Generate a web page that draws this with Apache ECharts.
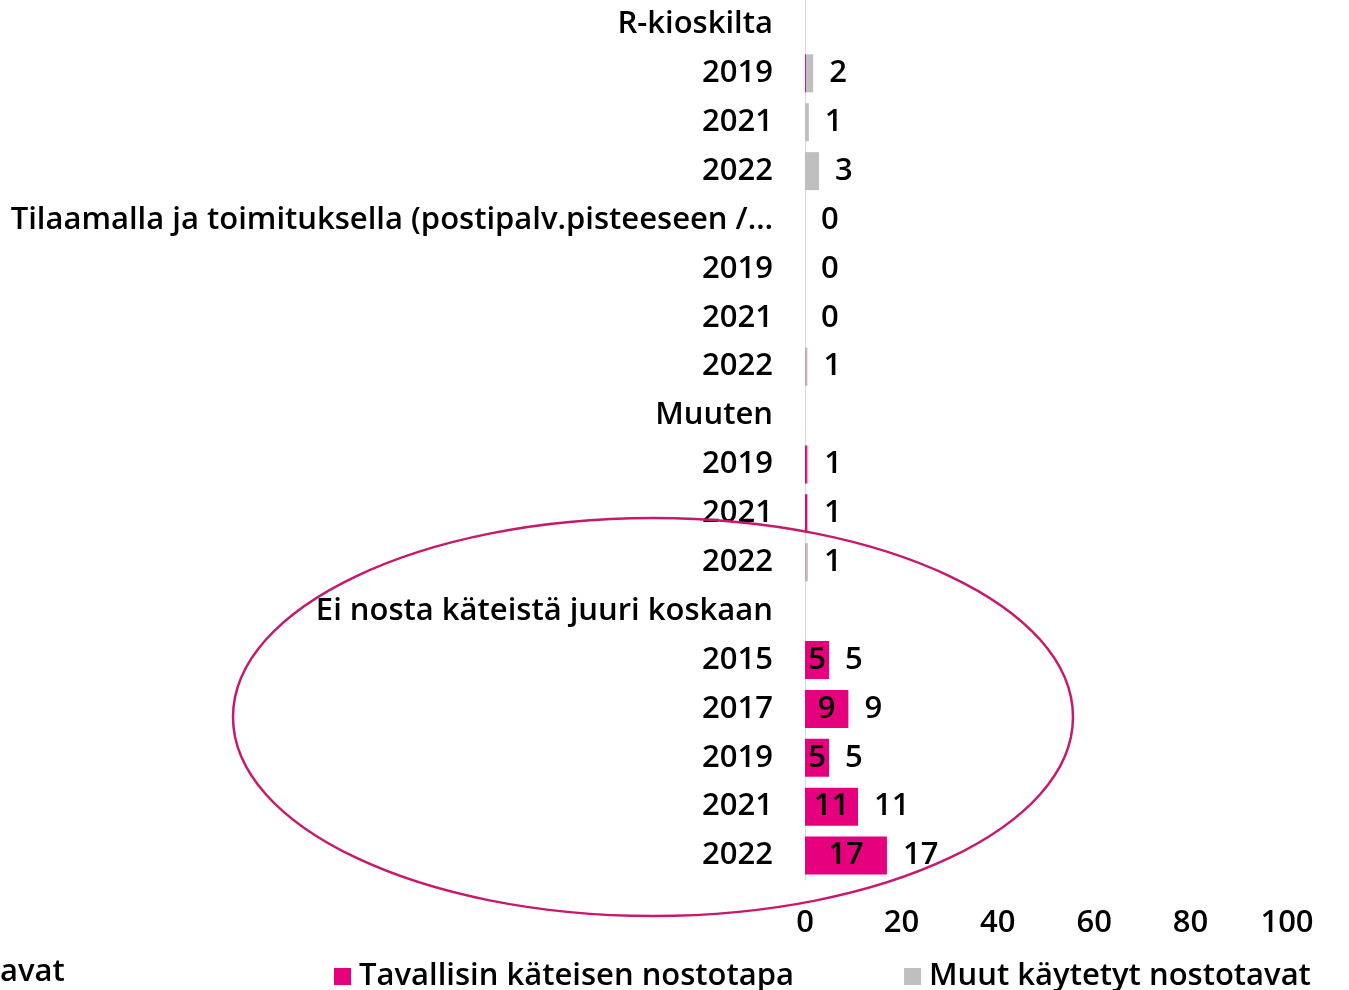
<!DOCTYPE html>
<html>
<head>
<meta charset="utf-8">
<style>
html,body{margin:0;padding:0;background:#fff;}
#chart{width:1349px;height:990px;}
</style>
<script src="https://cdn.jsdelivr.net/npm/echarts@6/dist/echarts.min.js"></script>
</head>
<body>
<div id="chart"></div>
<script>
var categories = [
  'R-kioskilta', '2019', '2021', '2022',
  'Tilaamalla ja toimituksella (postipalv.pisteeseen /…', '2019', '2021', '2022',
  'Muuten', '2019', '2021', '2022',
  'Ei nosta käteistä juuri koskaan', '2015', '2017', '2019', '2021', '2022'
];
var seriesNames = ['Tavallisin käteisen nostotapa', 'Muut käytetyt nostotavat'];
var tavallisin = [null, 0.2, 0, 0,   null, 0, 0, 0.1,   null, 0.4, 0.5, 0.1,   null, 5, 9, 5, 11, 17];
var muut       = [null, 1.5, 0.8, 2.9, 0, 0, 0, 0.4,    null, 0.3, 0.1, 0.5,   null, 0, 0, 0, 0, 0];
var totals     = [null, 2, 1, 3,     0, 0, 0, 1,        null, 1, 1, 1,         null, 5, 9, 5, 11, 17];
var xTicks = [0, 20, 40, 60, 80, 100];

var FONT = 'Open Sans';
var FS = 31;
var FW = 600;
var chart = echarts.init(document.getElementById('chart'), null, {renderer: 'canvas'});
chart.setOption({
  animation: false,
  textStyle: {fontFamily: FONT},
  grid: {left: 805, right: 62, top: 0, bottom: 110, containLabel: false},
  xAxis: {
    type: 'value', min: xTicks[0], max: xTicks[xTicks.length - 1], interval: 20,
    axisLine: {show: false}, axisTick: {show: false}, splitLine: {show: false},
    axisLabel: {fontSize: FS, fontWeight: FW, color: '#000', fontFamily: FONT, margin: 28}
  },
  yAxis: {
    type: 'category', inverse: true, data: categories,
    axisLine: {show: true, lineStyle: {color: '#D9D9D9', width: 1}},
    axisTick: {show: false},
    axisLabel: {fontSize: FS, fontWeight: FW, color: '#000', fontFamily: FONT, margin: 32}
  },
  legend: {
    data: seriesNames, left: 329, top: 956, itemWidth: 17, itemHeight: 17, itemGap: 110,
    icon: 'rect',
    textStyle: {fontSize: FS, fontWeight: FW, color: '#000', fontFamily: FONT, padding: [0, 0, 0, 3]}
  },
  series: [
    {
      name: seriesNames[0], type: 'bar', stack: 's', data: tavallisin, barWidth: 38,
      itemStyle: {color: '#E6007E'},
      label: {
        show: true, position: 'inside', color: '#000', fontSize: FS, fontWeight: FW, fontFamily: FONT,
        formatter: function (p) { return (p.value != null && p.value >= 2) ? String(p.value) : ''; }
      }
    },
    {
      name: seriesNames[1], type: 'bar', stack: 's', data: muut, barWidth: 38,
      itemStyle: {color: '#BFBFBF'},
      label: {
        show: true, position: 'right', distance: 16, color: '#000', fontSize: FS, fontWeight: FW, fontFamily: FONT,
        formatter: function (p) { var t = totals[p.dataIndex]; return t == null ? '' : String(t); }
      }
    }
  ],
  graphic: [
    {
      type: 'ellipse', silent: true, z: 100,
      shape: {cx: 653, cy: 717, rx: 420, ry: 199},
      style: {fill: 'none', stroke: '#C8186E', lineWidth: 2.5}
    },
    {
      type: 'text', left: 0, top: 957, silent: true,
      style: {text: 'avat', fontSize: FS, fontWeight: FW, fontFamily: FONT, fill: '#000'}
    }
  ]
});
</script>
</body>
</html>
